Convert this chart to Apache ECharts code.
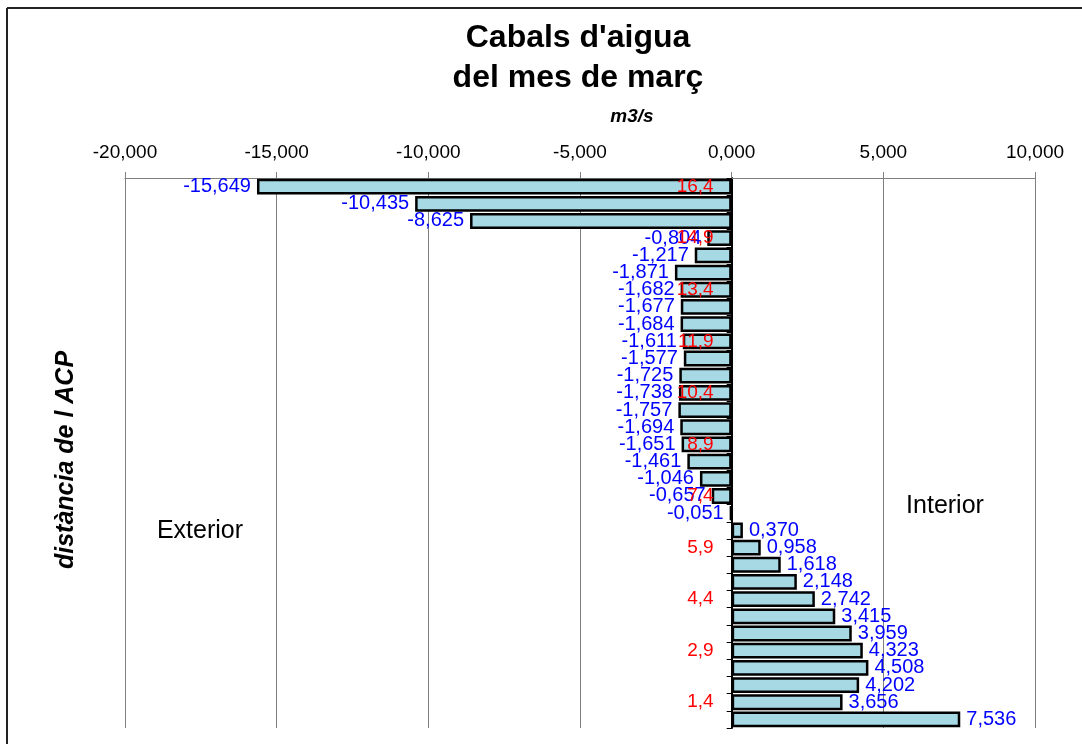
<!DOCTYPE html>
<html>
<head>
<meta charset="utf-8">
<script src="https://cdn.jsdelivr.net/npm/echarts@6/dist/echarts.min.js"></script>
<style>
html,body{margin:0;padding:0;background:#fff;}
#chart{width:1082px;height:744px;}
</style>
</head>
<body>
<div id="chart"></div>
<script>
// distance from ACP (km), top to bottom
const categories = ["16,4","15,9","15,4","14,9","14,4","13,9","13,4","12,9","12,4","11,9","11,4","10,9","10,4","9,9","9,4","8,9","8,4","7,9","7,4","6,9","6,4","5,9","5,4","4,9","4,4","3,9","3,4","2,9","2,4","1,9","1,4","0,9"];
// flow values (m3/s)
const flows = [-15.649,-10.435,-8.625,-0.804,-1.217,-1.871,-1.682,-1.677,-1.684,-1.611,-1.577,-1.725,-1.738,-1.757,-1.694,-1.651,-1.461,-1.046,-0.657,-0.051,0.370,0.958,1.618,2.148,2.742,3.415,3.959,4.323,4.508,4.202,3.656,7.536];
// category tick labels shown (every third)
const shownCategories = ["16,4","14,9","13,4","11,9","10,4","8,9","7,4","5,9","4,4","2,9","1,4"];
const xTicks = {min: -20, max: 10, interval: 5};

const fmt3 = v => v.toFixed(3).replace('.', ',');
const FONT = 'Liberation Sans, Arial, sans-serif';

const chart = echarts.init(document.getElementById('chart'), null, {renderer: 'canvas'});

const barData = flows.map(v => ({
  value: v,
  label: {position: v < 0 ? 'left' : 'right'}
}));

chart.setOption({
  animation: false,
  backgroundColor: '#ffffff',
  grid: {left: 125, right: 47, top: 178, bottom: 16, containLabel: false},
  xAxis: {
    type: 'value',
    position: 'top',
    min: xTicks.min, max: xTicks.max, interval: xTicks.interval,
    axisLine: {show: true, lineStyle: {color: '#808080', width: 1}},
    axisTick: {show: true, length: 6, lineStyle: {color: '#808080'}},
    splitLine: {show: true, lineStyle: {color: '#808080', width: 1}},
    axisLabel: {formatter: v => fmt3(v), fontFamily: FONT, fontSize: 19, color: '#000', margin: 16}
  },
  yAxis: {
    type: 'category',
    inverse: true,
    data: categories,
    axisLine: {show: true, onZero: true, lineStyle: {color: '#000', width: 2}},
    axisTick: {show: true, length: 5, interval: 0, lineStyle: {color: '#000'}},
    axisLabel: {show: false},
    splitLine: {show: false}
  },
  series: [{
    type: 'bar',
    data: barData,
    barCategoryGap: '8%',
    itemStyle: {color: '#a6d9e4', borderColor: '#000', borderWidth: 2.5},
    label: {show: true, formatter: p => fmt3(p.value), fontFamily: FONT, fontSize: 20, color: '#0000ff', distance: 6},
    z: 3
  }, {
    type: 'scatter',
    data: shownCategories.map(c => [0, c]),
    symbolSize: 0,
    silent: true,
    itemStyle: {opacity: 1},
    label: {show: true, position: 'left', distance: 18, formatter: p => p.value[1], fontFamily: FONT, fontSize: 19, color: '#ff0000', opacity: 1},
    z: 5
  }],
  graphic: [
    {type: 'line', shape: {x1: 7, y1: 8, x2: 1082, y2: 8}, style: {stroke: '#222', lineWidth: 2}, z: 10},
    {type: 'line', shape: {x1: 7, y1: 8, x2: 7, y2: 744}, style: {stroke: '#222', lineWidth: 2}, z: 10},
    {type: 'text', x: 578, y: 38, style: {text: "Cabals d'aigua", font: 'bold 32px ' + FONT, fill: '#000', textAlign: 'center', textVerticalAlign: 'middle'}},
    {type: 'text', x: 578, y: 78, style: {text: 'del mes de març', font: 'bold 32px ' + FONT, fill: '#000', textAlign: 'center', textVerticalAlign: 'middle'}},
    {type: 'text', x: 632, y: 117, style: {text: 'm3/s', font: 'italic bold 19px ' + FONT, fill: '#000', textAlign: 'center', textVerticalAlign: 'middle'}},
    {type: 'text', x: 66, y: 460, rotation: Math.PI / 2, style: {text: 'distància de l ACP', font: 'italic bold 25px ' + FONT, fill: '#000', textAlign: 'center', textVerticalAlign: 'middle'}},
    {type: 'text', x: 200, y: 531, style: {text: 'Exterior', font: '25px ' + FONT, fill: '#000', textAlign: 'center', textVerticalAlign: 'middle'}},
    {type: 'text', x: 945, y: 506, style: {text: 'Interior', font: '25px ' + FONT, fill: '#000', textAlign: 'center', textVerticalAlign: 'middle'}}
  ]
});
</script>
</body>
</html>
